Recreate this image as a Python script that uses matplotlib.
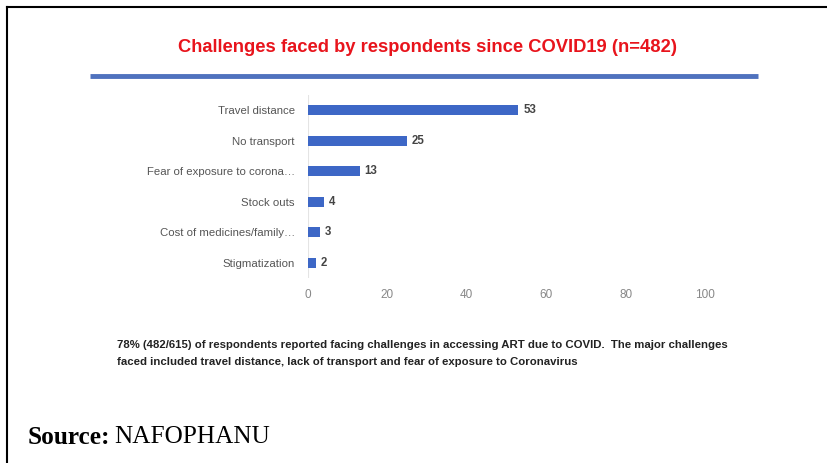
import matplotlib
matplotlib.use("Agg")
import matplotlib.pyplot as plt
from matplotlib.lines import Line2D

categories = ["Travel distance", "No transport", "Fear of exposure to corona\u2026",
              "Stock outs", "Cost of medicines/family\u2026", "Stigmatization"]
values = [53, 25, 13, 4, 3, 2]
xticks = [0, 20, 40, 60, 80, 100]

title = "Challenges faced by respondents since COVID19 (n=482)"
note_lines = [
    "78% (482/615) of respondents reported facing challenges in accessing ART due to COVID.  The major challenges",
    "faced included travel distance, lack of transport and fear of exposure to Coronavirus",
]

SANS = ["Liberation Sans", "DejaVu Sans"]
W, H = 827, 463
fig = plt.figure(figsize=(W / 100, H / 100), dpi=100)

# page frame: top and left rules
fig.add_artist(Line2D([7 / W, 1], [1 - 7 / H, 1 - 7 / H], color="black", lw=1.5))
fig.add_artist(Line2D([7 / W, 7 / W], [0, 1 - 7 / H], color="black", lw=1.5))

fig.text(427 / W, 1 - 47 / H, title, color="#e8141c", fontsize=13.2, fontweight="bold",
         family=SANS, ha="center", va="center")
fig.add_artist(Line2D([90 / W, 758 / W], [1 - 76 / H, 1 - 76 / H], color="#4f72be", lw=3.5,
                      solid_capstyle="butt"))

# bar chart
x0, x1 = 308, 705
y_top, y_bot = 95, 278
ax = fig.add_axes([x0 / W, 1 - y_bot / H, (x1 - x0) / W, (y_bot - y_top) / H])
pos = list(range(len(categories)))
ax.barh(pos, values, height=0.32, color="#3d67c6")
ax.set_ylim(len(categories) - 0.5, -0.5)
ax.set_xlim(0, 100)
ax.set_xticks(xticks)
ax.set_xticklabels([str(t) for t in xticks], family=SANS, fontsize=8.5, color="#888888")
ax.set_yticks(pos)
ax.set_yticklabels(categories, family=SANS, fontsize=8.2, color="#555555")
ax.tick_params(length=0, pad=9.5, axis="y")
ax.tick_params(length=0, pad=8, axis="x")
for s in ax.spines.values():
    s.set_visible(False)
ax.axvline(0, color="#e4e4e4", lw=0.8, zorder=0)
for p, v in zip(pos, values):
    ax.text(v + 1.2, p, str(v), va="center", ha="left", fontsize=8.3, fontweight="bold",
            color="#444444", family=SANS)

fig.text(117 / W, 1 - 345 / H, note_lines[0], fontsize=8.2, fontweight="bold",
         family=SANS, color="#222222", va="center")
fig.text(117 / W, 1 - 362 / H, note_lines[1], fontsize=8.2, fontweight="bold",
         family=SANS, color="#222222", va="center")

src = fig.text(28 / W, 1 - 437 / H, "Source:", fontsize=18.2, fontweight="bold",
               family="Liberation Serif", va="center")
fig.canvas.draw()
bb = src.get_window_extent()
fig.text((bb.x1 + 4) / W, 1 - 437 / H, "NAFOPHANU", fontsize=18.2,
         family="Liberation Serif", va="center")

fig.savefig("out.png", dpi=100)
